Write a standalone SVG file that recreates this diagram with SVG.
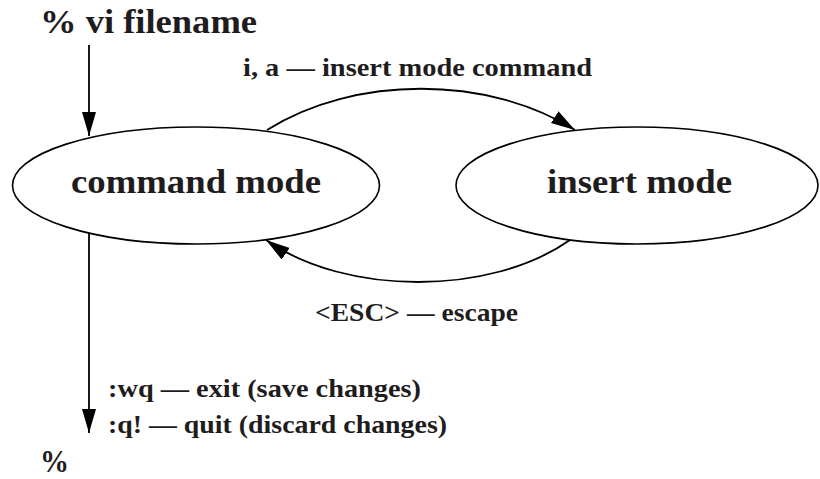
<svg xmlns="http://www.w3.org/2000/svg" width="820" height="479" viewBox="0 0 820 479">
<style>
.bg{fill:#ffffff}
.node{fill:#ffffff;stroke:#000;stroke-width:1.6}
.edge{fill:none;stroke:#000;stroke-width:1.8}
.big{font-family:"Liberation Serif","Times New Roman",serif;font-weight:bold;font-size:34px;fill:#1f1c1d}
.lbl{font-family:"Liberation Serif","Times New Roman",serif;font-weight:bold;font-size:25px;fill:#1f1c1d}
</style>
<defs>
<marker id="arr" markerUnits="userSpaceOnUse" markerWidth="25" markerHeight="15" refX="24" refY="7" orient="auto">
<path d="M0,0 L24,7 L0,14 z" fill="#000"/>
</marker>
</defs>
<rect class="bg" x="0" y="0" width="820" height="479"/>
<g id="start">
<text class="big" x="40" y="33" textLength="217" lengthAdjust="spacingAndGlyphs">% vi filename</text>
</g>
<g id="command-mode">
<ellipse class="node" cx="196" cy="185.5" rx="183.5" ry="58.5"/>
<text class="big" x="71" y="193" textLength="250" lengthAdjust="spacingAndGlyphs">command mode</text>
</g>
<g id="insert-mode">
<ellipse class="node" cx="637" cy="185.5" rx="181" ry="58.5"/>
<text class="big" x="547" y="193" textLength="185" lengthAdjust="spacingAndGlyphs">insert mode</text>
</g>
<g id="end">
<text class="big" x="40" y="472" textLength="29" lengthAdjust="spacingAndGlyphs" style="font-size:31px">%</text>
</g>
<g id="connectors">
<path class="edge" d="M89,45 L89,136" marker-end="url(#arr)"/>
<path class="edge" d="M267,130 C354,75 488,75 575,130" marker-end="url(#arr)"/>
<path class="edge" d="M570,240 C490,296 346,296 266,240" marker-end="url(#arr)"/>
<path class="edge" d="M89,233 L89,433" marker-end="url(#arr)"/>
<text class="lbl" x="243" y="76" textLength="349" lengthAdjust="spacingAndGlyphs">i, a — insert mode command</text>
<text class="lbl" x="315" y="321" textLength="203" lengthAdjust="spacingAndGlyphs">&lt;ESC&gt; — escape</text>
<text class="lbl" x="108" y="397" textLength="313" lengthAdjust="spacingAndGlyphs">:wq — exit (save changes)</text>
<text class="lbl" x="108" y="433" textLength="339" lengthAdjust="spacingAndGlyphs">:q! — quit (discard changes)</text>
</g>
</svg>
